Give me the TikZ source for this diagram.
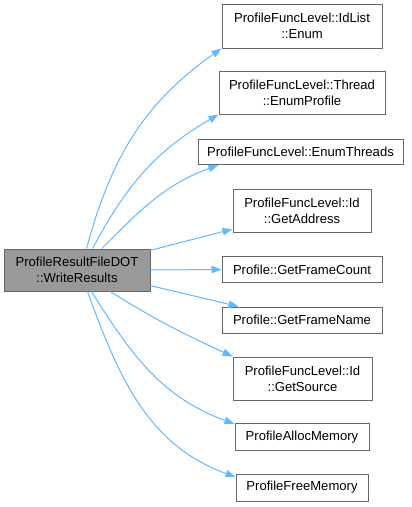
\documentclass[tikz,border=0pt]{standalone}
\usepackage{fontspec}
\setmainfont{Liberation Sans}
\usetikzlibrary{arrows.meta}
\definecolor{edgeblue}{HTML}{63B8FF}
\definecolor{bordergray}{HTML}{666666}
\definecolor{mainfill}{HTML}{999999}
\begin{document}
\begin{tikzpicture}[x=0.75pt,y=0.75pt,
  box/.style={draw=bordergray, fill=white, line width=0.75pt, inner sep=0pt, align=center, font=\fontsize{9.8}{12}\selectfont},
  edge/.style={draw=edgeblue, line width=0.75pt, -{Triangle[length=7.5pt,width=5.5pt]}}]
\useasboundingbox (0,0) rectangle (411,-507);
\node[box, fill=mainfill, minimum width=109.5pt, minimum height=31.5pt] (main) at (77,-270) {ProfileResultFileDOT\\::WriteResults};
\node[box, minimum width=120pt, minimum height=33pt] (t1) at (302,-26) {ProfileFuncLevel::IdList\\::Enum};
\node[box, minimum width=124.5pt, minimum height=32.25pt] (t2) at (302,-92.5) {ProfileFuncLevel::Thread\\::EnumProfile};
\node[box, minimum width=153.75pt, minimum height=18.75pt] (t3) at (300.5,-152) {ProfileFuncLevel::EnumThreads};
\node[box, minimum width=103.5pt, minimum height=32.25pt] (t4) at (302,-210.5) {ProfileFuncLevel::Id\\::GetAddress};
\node[box, minimum width=120pt, minimum height=19.5pt] (t5) at (302,-269.5) {Profile::GetFrameCount};
\node[box, minimum width=120pt, minimum height=19.5pt] (t6) at (302,-320) {Profile::GetFrameName};
\node[box, minimum width=104.25pt, minimum height=32.25pt] (t7) at (302.5,-378.5) {ProfileFuncLevel::Id\\::GetSource};
\node[box, minimum width=100.5pt, minimum height=20.25pt] (t8) at (302,-437) {ProfileAllocMemory};
\node[box, minimum width=99pt, minimum height=20.25pt] (t9) at (302,-487.5) {ProfileFreeMemory};
\draw[edge] (main.66.8) to[out=75,in=215] (t1.south west);
\draw[edge] (main.54.5) to[out=62,in=210] (t2.south west);
\draw[edge] (main.41.2) to[out=45,in=200] (t3.189.4);
\draw[edge] (main.15.3) -- (t4.195);
\draw[edge] (main.east) -- (t5.west);
\draw[edge] (main.-12.4) -- (t6.168.5);
\draw[edge] (main.-33.3) to[out=-32,in=155] (t7.north west);
\draw[edge] (main.-56.3) to[out=-58,in=160] (t8.169.8);
\draw[edge] (main.-64.5) to[out=-70,in=160] (t9.171.8);
\end{tikzpicture}
\end{document}
